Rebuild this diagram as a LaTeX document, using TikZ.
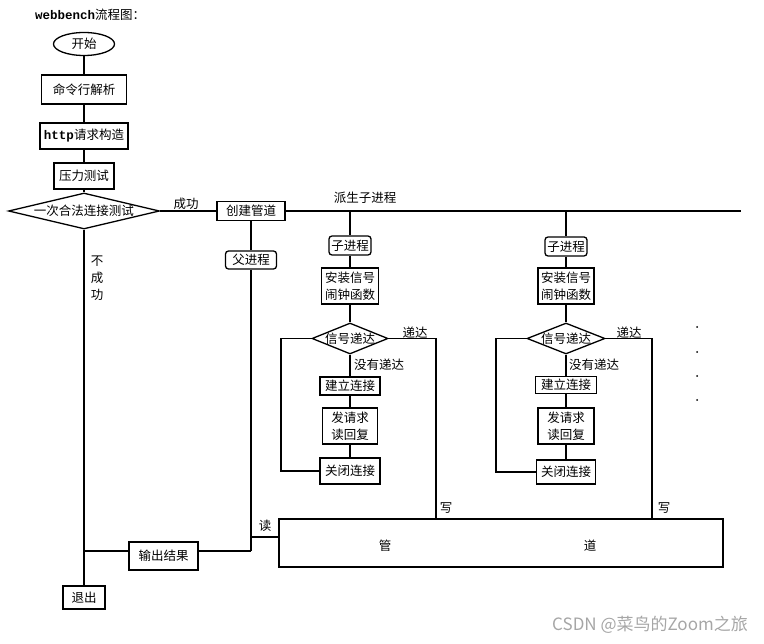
\documentclass[tikz,border=0pt]{standalone}
\usepackage{fontspec}
\setmainfont{Noto Sans CJK SC}
\newfontfamily\monofont{Liberation Mono}
\usetikzlibrary{shapes.geometric}

\tikzset{
  startbox/.style={draw, ellipse, line width=1.3pt, inner sep=0pt},
  stepbox/.style={draw, line width=1.4pt, inner sep=1pt, align=center},
  procbox/.style={draw, line width=1.3pt, rounded corners=3pt, inner sep=1pt},
  testbox/.style={draw, diamond, line width=1.3pt, inner sep=0pt},
  link/.style={line width=1.2pt},
  tag/.style={inner sep=0pt, align=center}
}

\begin{document}
\begin{tikzpicture}[x=1pt, y=-1pt, font=\fontsize{12.5}{17}\selectfont]
    \useasboundingbox (0,0) rectangle (764,644);
    \node[tag, anchor=west] (title) at (35,15) {{\monofont\bfseries webbench}流程图：};

    % main line
    \node[startbox, minimum width=61, minimum height=23] (start) at (84,44) {开始};
    \node[stepbox, minimum width=85, minimum height=29] (parse) at (84,89.5) {命令行解析};
    \node[stepbox, minimum width=88, minimum height=26] (build) at (84,136) {{\monofont\bfseries http}请求构造};
    \node[stepbox, minimum width=60, minimum height=26] (press) at (84,176) {压力测试};
    \node[testbox, minimum width=151, minimum height=36, label=center:一次合法连接测试] (probe) at (84,211) {};
    \draw[link] (start) -- (parse) -- (build) -- (press) -- (probe);

    \node[stepbox, minimum width=68, minimum height=19] (pipeinit) at (251,211) {创建管道};
    \draw[link] (probe) -- (pipeinit);
    \node[tag] (oklbl) at (186,204) {成功};
    \coordinate (busend) at (741,211);
    \draw[link] (pipeinit) -- (busend);
    \node[tag] (forklbl) at (365,198) {派生子进程};

    % parent
    \node[procbox, minimum width=51, minimum height=18] (parent) at (251,260) {父进程};
    \coordinate (readjoin) at (251,537);
    \coordinate (parentend) at (251,551);
    \draw[link] (pipeinit) -- (parent);
    \draw[link] (parent) -- (parentend);
    \node[stepbox, minimum width=69, minimum height=28] (report) at (163.5,556) {输出结果};
    \draw[link] (parentend) -- (parentend -| report.east);
    \node[stepbox, minimum width=42, minimum height=23] (quit) at (84,597.5) {退出};
    \draw[link] (probe) -- (quit);
    \coordinate (quitjoin) at (84,551);
    \draw[link] (quitjoin) -- (quitjoin -| report.west);
    \node[tag] (faillbl) at (97,278) {不\\成\\功};

    % pipe
    \node[stepbox, line width=1.1pt, minimum width=444, minimum height=48] (pipe) at (501,543) {};
    \node[tag] (pipeA) at (385,546) {管};
    \node[tag] (pipeB) at (590,546) {道};
    \draw[link] (readjoin) -- (readjoin -| pipe.west);
    \node[tag] (readlbl) at (265,526) {读};

    % first child
    \coordinate (forkA) at (350,211);
    \node[procbox, minimum width=42, minimum height=19] (childA) at (350,245.5) {子进程};
    \node[stepbox, minimum width=57, minimum height=36] (alarmA) at (350,286) {安装信号\\闹钟函数};
    \node[testbox, minimum width=76, minimum height=31, label=center:信号递达] (sigA) at (350,338.5) {};
    \node[stepbox, minimum width=60, minimum height=18] (connA) at (350,386) {建立连接};
    \node[stepbox, minimum width=55, minimum height=36] (reqA) at (350,426) {发请求\\读回复};
    \node[stepbox, minimum width=60, minimum height=26] (closeA) at (350,471) {关闭连接};
    \draw[link] (forkA) -- (childA) -- (alarmA) -- (sigA) -- (connA) -- (reqA) -- (closeA);
    \coordinate (loopA) at (281,338.5);
    \draw[link] (sigA.west) -- (loopA) |- (closeA.west);
    \coordinate (writeA) at (436,519);
    \draw[link] (sigA.east) -| (writeA);
    \node[tag] (okA) at (415,333) {递达};
    \node[tag, anchor=west] (noA) at (354,365) {没有递达};
    \node[tag] (wrA) at (446,508) {写};

    % second child
    \coordinate (forkB) at (566,211);
    \node[procbox, minimum width=42, minimum height=19] (childB) at (566,246.5) {子进程};
    \node[stepbox, minimum width=56, minimum height=36] (alarmB) at (566,286) {安装信号\\闹钟函数};
    \node[testbox, minimum width=78, minimum height=31, label=center:信号递达] (sigB) at (566,338.5) {};
    \node[stepbox, minimum width=61, minimum height=17] (connB) at (566,385) {建立连接};
    \node[stepbox, minimum width=56, minimum height=36] (reqB) at (566,426) {发请求\\读回复};
    \node[stepbox, minimum width=59, minimum height=24] (closeB) at (566,472) {关闭连接};
    \draw[link] (forkB) -- (childB) -- (alarmB) -- (sigB) -- (connB) -- (reqB) -- (closeB);
    \coordinate (loopB) at (496,338.5);
    \draw[link] (sigB.west) -- (loopB) |- (closeB.west);
    \coordinate (writeB) at (652,519);
    \draw[link] (sigB.east) -| (writeB);
    \node[tag] (okB) at (629,333) {递达};
    \node[tag, anchor=west] (noB) at (569,365) {没有递达};
    \node[tag] (wrB) at (664,508) {写};

    % more children
    \fill (697,327) circle (1);
    \fill (697,352) circle (1);
    \fill (697,376) circle (1);
    \fill (697,400) circle (1);

    \node[tag, anchor=east, text=gray!70, font=\fontsize{17}{20}\selectfont] (mark) at (748,625) {CSDN @菜鸟的Zoom之旅};
\end{tikzpicture}
\end{document}
